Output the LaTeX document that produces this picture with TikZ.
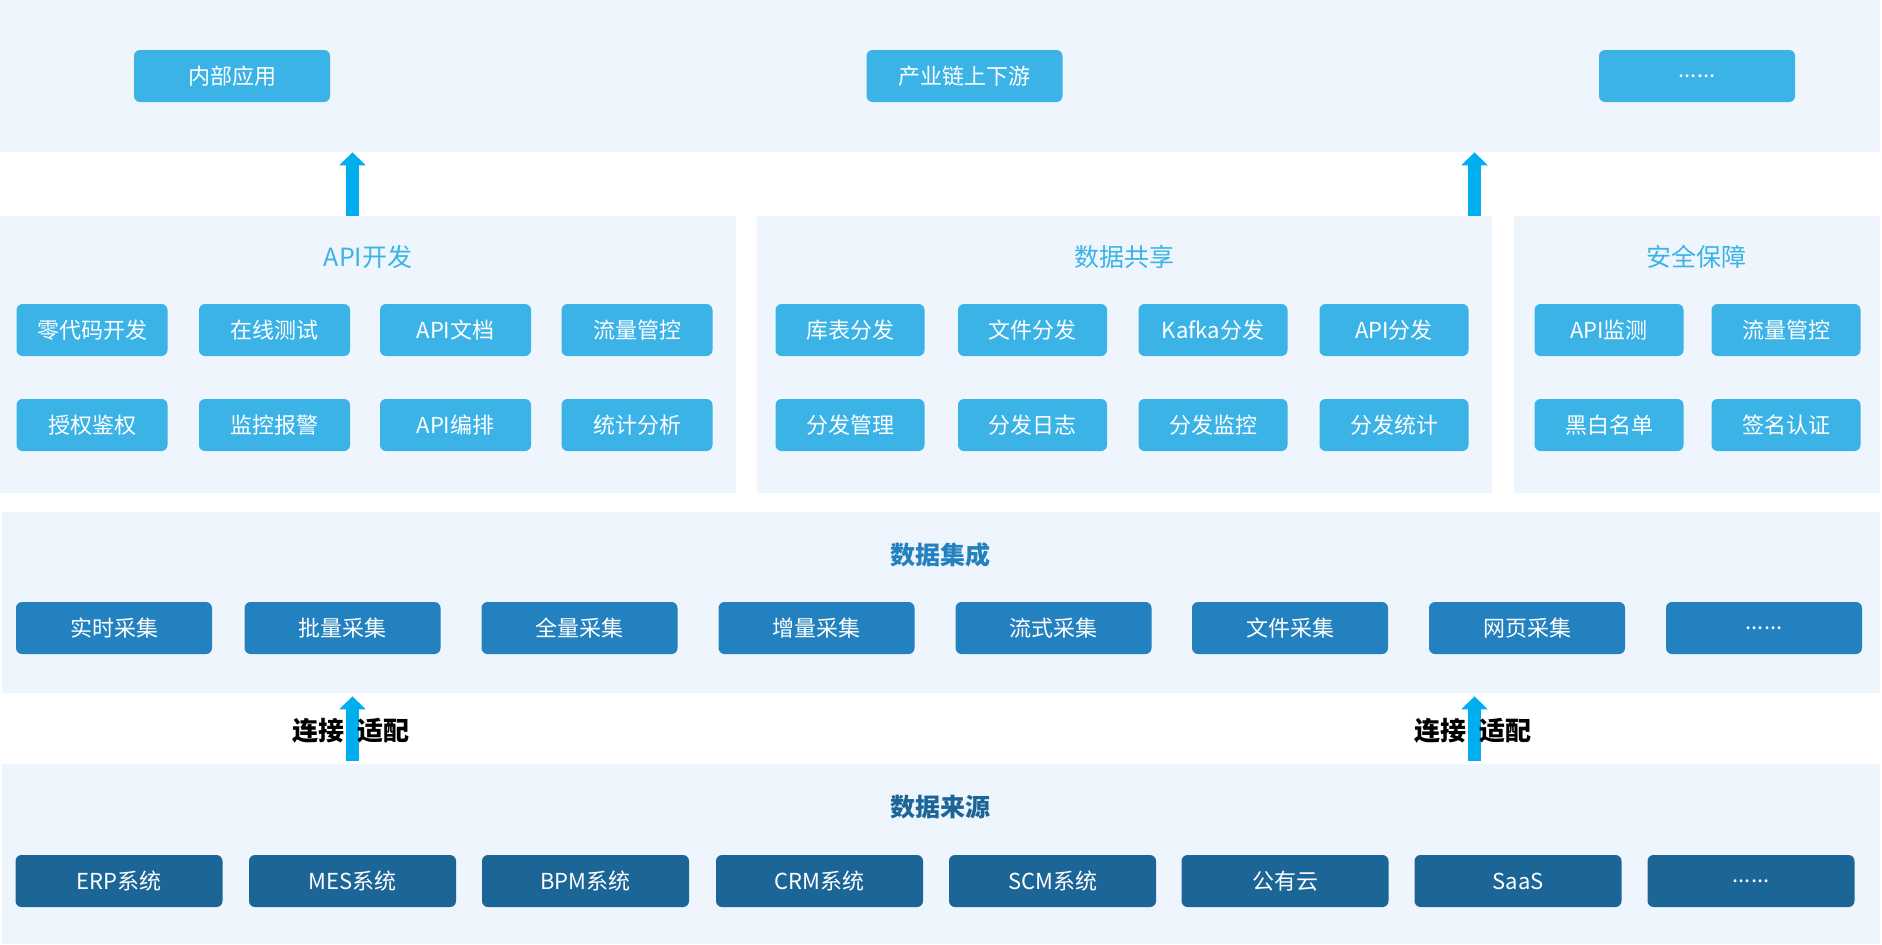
\documentclass[tikz,border=0pt]{standalone}
\usepackage{fontspec}
\newfontfamily\cjk{Noto Sans CJK SC}
\usetikzlibrary{arrows.meta}
\definecolor{panelbg}{RGB}{239,245,252}
\definecolor{skyblue}{RGB}{59,179,231}
\definecolor{midblue}{RGB}{34,129,190}
\definecolor{deepblue}{RGB}{28,101,151}
\definecolor{arrowblue}{RGB}{0,174,239}
\newcommand\etcdots{......}
\tikzset{
  panel/.style={fill=panelbg, inner sep=0pt, anchor=north west},
  cell/.style={rounded corners=6pt, text=white, minimum height=52pt, inner sep=0pt, font=\cjk\fontsize{22}{22}\selectfont},
  skycell/.style={cell, fill=skyblue, minimum width=151pt},
  title/.style={font=\cjk\fontsize{25}{25}\selectfont, text=skyblue},
  bigtitle/.style={font=\cjk\bfseries\fontsize{25}{25}\selectfont},
  linklabel/.style={font=\cjk\bfseries\fontsize{26}{26}\selectfont, inner sep=0pt},
  uparrow/.style={arrowblue, line width=12.5pt, -{Triangle[width=26pt,length=13pt]}}
}
\begin{document}
\begin{tikzpicture}[x=1pt, y=-1pt]
\useasboundingbox (0,0) rectangle (1882,945);
% panels
\node[panel, minimum width=1880pt, minimum height=152pt] (top) at (0,0) {};
\node[panel, minimum width=736pt, minimum height=277pt] (api) at (0,216) {};
\node[panel, minimum width=735pt, minimum height=277pt] (share) at (757,216) {};
\node[panel, minimum width=366pt, minimum height=277pt] (safe) at (1514,216) {};
\node[panel, minimum width=1878pt, minimum height=181pt] (integ) at (2,512) {};
\node[panel, minimum width=1878pt, minimum height=180pt] (src) at (2,764) {};

% top row
\foreach \x/\t [count=\i] in {232/内部应用, 964.5/产业链上下游, 1697/\etcdots}
{
    \node[cell, fill=skyblue, minimum width=196pt] (app\i) at (\x,76) {\t};
}

% titles
\node[title] (apit) at (368,257) {API开发};
\node[title] (sharet) at (1124.5,257) {数据共享};
\node[title] (safet) at (1696,257) {安全保障};
\node[bigtitle, text=midblue] (integt) at (940.5,555) {数据集成};
\node[bigtitle, text=deepblue] (srct) at (940.5,807) {数据来源};

\foreach \x/\y/\t [count=\i] in {92/330/零代码开发, 274.5/330/在线测试, 455.5/330/API文档, 637/330/流量管控,
    92/425/授权鉴权, 274.5/425/监控报警, 455.5/425/API编排, 637/425/统计分析}
{
    \node[skycell] (dev\i) at (\x,\y) {\t};
}
\foreach \x/\y/\t [count=\i] in {850/330/库表分发, 1032.5/330/文件分发, 1213/330/Kafka分发, 1394/330/API分发,
    850/425/分发管理, 1032.5/425/分发日志, 1213/425/分发监控, 1394/425/分发统计}
{
    \node[skycell, minimum width=149pt] (dist\i) at (\x,\y) {\t};
}
\foreach \x/\y/\t [count=\i] in {1609/330/API监测, 1786/330/流量管控, 1609/425/黑白名单, 1786/425/签名认证}
{
    \node[skycell, minimum width=149pt] (sec\i) at (\x,\y) {\t};
}

% data integration
\foreach \x/\t [count=\i] in {114/实时采集, 342.5/批量采集, 579.5/全量采集, 816.5/增量采集,
    1053.5/流式采集, 1290/文件采集, 1527/网页采集, 1764/\etcdots}
{
    \node[cell, fill=midblue, minimum width=196pt] (coll\i) at (\x,628) {\t};
}

% data sources
\foreach \x/\t [count=\i] in {119/ERP系统, 352.5/MES系统, 585.5/BPM系统, 819.5/CRM系统,
    1052.5/SCM系统, 1285/公有云, 1518/SaaS, 1751/\etcdots}
{
    \node[cell, fill=deepblue, minimum width=207pt] (sys\i) at (\x,881) {\t};
}

% arrows
\coordinate (u1) at (352.5,0);
\coordinate (u2) at (1474.5,0);
\draw[uparrow] (api.north -| u1) -- (top.south -| u1);
\draw[uparrow] (share.north -| u2) -- (top.south -| u2);
\foreach \u in {u1, u2}
{
    \draw[uparrow, shorten <=3pt, shorten >=3pt] (src.north -| \u) -- (integ.south -| \u);
    \node[linklabel, anchor=east] (\u l) at ([xshift=-7.5pt]\u |- 0,731) {连接};
    \node[linklabel, anchor=west] (\u r) at ([xshift=5pt]\u |- 0,731) {适配};
}
\end{tikzpicture}
\end{document}
